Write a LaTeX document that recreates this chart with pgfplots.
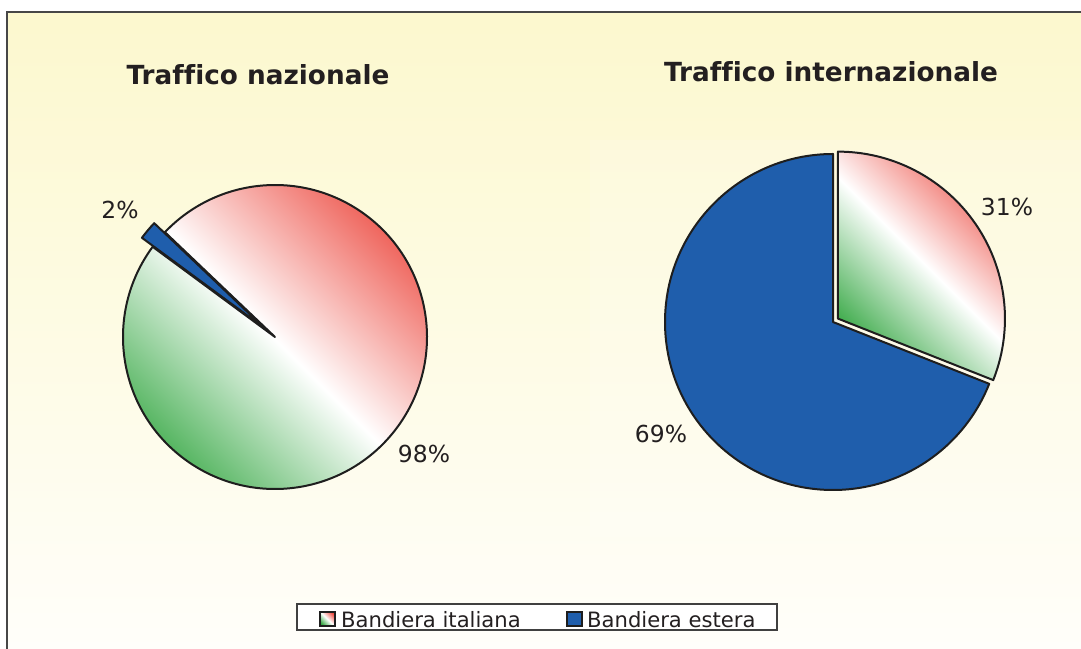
\documentclass[border=0pt]{standalone}
\usepackage{pgfplots}
\pgfplotsset{compat=1.18}
\usepackage{pgfplotstable}
\usepackage{fontspec}
\setmainfont[Ligatures=NoCommon]{DejaVu Sans}

\definecolor{bgtop}{RGB}{252,248,206}
\definecolor{bgbot}{RGB}{255,254,250}
\definecolor{itred}{RGB}{236,72,62}
\definecolor{itgreen}{RGB}{48,165,62}
\definecolor{estblue}{RGB}{31,94,172}
\definecolor{edge}{RGB}{30,30,30}
\definecolor{txt}{RGB}{35,31,32}

\pgfdeclareverticalshading{flag}{100bp}{color(0bp)=(itgreen); color(23bp)=(itgreen); color(50bp)=(white); color(77bp)=(itred); color(100bp)=(itred)}

% data (percentages)
\pgfplotstableread{
serie valore
italiana 98
estera 2
}\nazionale
\pgfplotstableread{
serie valore
italiana 31
estera 69
}\internazionale

\begin{document}
\pgfplotstablegetelem{0}{valore}\of\nazionale \let\natIt\pgfplotsretval
\pgfplotstablegetelem{1}{valore}\of\nazionale \let\natEs\pgfplotsretval
\pgfplotstablegetelem{0}{valore}\of\internazionale \let\intIt\pgfplotsretval
\pgfplotstablegetelem{1}{valore}\of\internazionale \let\intEs\pgfplotsretval
\begin{tikzpicture}
% left pie angles (blue slice centred at 140 deg)
\pgfmathsetmacro\LbA{140-1.8*\natEs}
\pgfmathsetmacro\LbB{140+1.8*\natEs}
\pgfmathsetmacro\LiB{\LbB+3.6*\natIt}
% right pie angles (blue slice starts at 90 deg, counter-clockwise)
\pgfmathsetmacro\RbB{90+3.6*\intEs}
\pgfmathsetmacro\RiB{\RbB+3.6*\intIt}
\pgfmathsetmacro\RiMid{(\RbB+\RiB)/2}
\begin{axis}[
  width=1081bp, height=649bp, scale only axis,
  xmin=0, xmax=1081, ymin=0, ymax=649,
  hide axis, clip=false,
]
% background
\fill[top color=bgtop, bottom color=bgbot] (axis cs:7,0) rectangle (axis cs:1081,637);
\fill[white, opacity=0.15] (axis cs:590,112) rectangle (axis cs:1081,509);
\draw[line width=1.6bp, black!72] (axis cs:7,0) -- (axis cs:7,637) -- (axis cs:1081,637);

% titles
\node[anchor=base, text=txt, font=\fontsize{26.4}{31}\selectfont\bfseries] at (axis cs:258,564) {Traffico nazionale};
\node[anchor=base, text=txt, font=\fontsize{26.4}{31}\selectfont\bfseries] at (axis cs:831,567) {Traffico internazionale};

% left pie
\shade[shading=flag, shading angle=-45, draw=edge, line width=2bp, line join=round]
  (axis cs:275,312) -- ++(\LbB:152bp) arc[start angle=\LbB, end angle=\LiB, radius=152bp] -- cycle;
\filldraw[fill=estblue, draw=edge, line width=2bp, line join=round]
  ([shift={(140:14bp)}]axis cs:275,312) -- ++(\LbA:152bp) arc[start angle=\LbA, end angle=\LbB, radius=152bp] -- cycle;

% right pie
\filldraw[fill=estblue, draw=edge, line width=2bp, line join=round]
  (axis cs:833,327) -- ++(90:168bp) arc[start angle=90, end angle=\RbB, radius=168bp] -- cycle;
\fill[white] ([shift={(\RiMid:6bp)}]axis cs:833,327) -- ++(\RbB:168bp) arc[start angle=\RbB, end angle=\RiB, radius=168bp] -- cycle;
\shade[shading=flag, shading angle=-45, draw=edge, line width=2bp, line join=round]
  ([shift={(\RiMid:6bp)}]axis cs:833,327) -- ++(\RbB:167bp) arc[start angle=\RbB, end angle=\RiB, radius=167bp] -- cycle;

% data labels
\begin{scope}[every node/.style={anchor=base, text=txt, font=\fontsize{23.5}{27}\selectfont}]
\node at (axis cs:120,430) {\natEs\%};
\node at (axis cs:424,186) {\natIt\%};
\node at (axis cs:1007,433) {\intIt\%};
\node at (axis cs:661,206) {\intEs\%};
\end{scope}

% legend
\filldraw[fill=white, draw=black!75, line width=1.2bp] (axis cs:297,19) rectangle (axis cs:777,45);
\shade[shading=flag, shading angle=-45, draw=edge, line width=1.5bp] (axis cs:320,23) rectangle (axis cs:335,37);
\filldraw[fill=estblue, draw=edge, line width=1.5bp] (axis cs:567,23) rectangle (axis cs:582,37);
\begin{scope}[every node/.style={anchor=base west, inner sep=0pt, text=txt, font=\fontsize{21.2}{25}\selectfont}]
\node at (axis cs:341,22) {Bandiera italiana};
\node at (axis cs:587,22) {Bandiera estera};
\end{scope}
\end{axis}
\pgfresetboundingbox
\useasboundingbox (0,0) rectangle (1081bp,649bp);
\end{tikzpicture}
\end{document}
